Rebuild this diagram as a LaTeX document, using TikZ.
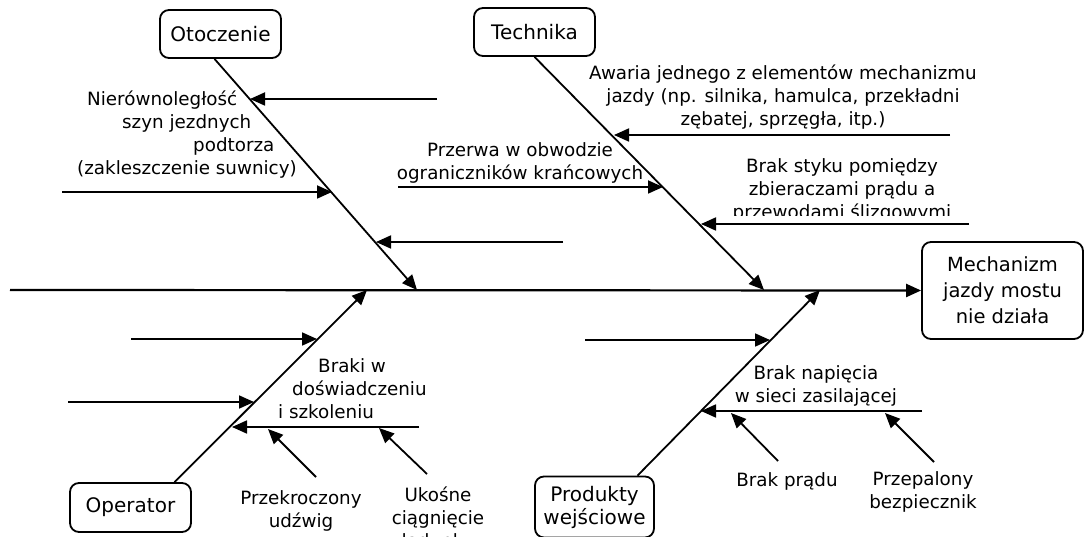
\documentclass[tikz,border=0pt]{standalone}
\usepackage{fontspec}
\setmainfont{DejaVu Sans}
\usetikzlibrary{arrows.meta}
\begin{document}
\begin{tikzpicture}[x=1pt,y=-1pt,
  tip/.style={-{Triangle[length=15pt,width=13pt]}},
  bone/.style={line width=1.8pt, tip},
  spine/.style={line width=2.2pt, tip},
  catbox/.style={draw, line width=1.8pt, rounded corners=9pt, inner sep=0pt,
    align=center, font=\fontsize{20}{23}\selectfont},
  lbl/.style={inner sep=0pt, font=\fontsize{18.3}{23}\selectfont}]
\clip (0,0) rectangle (1085,537);

% category boxes and effect box
\node[catbox, minimum width=121pt, minimum height=48pt] (oto) at (220.5,34) {Otoczenie};
\node[catbox, minimum width=121pt, minimum height=48pt] (tech) at (534.5,32) {Technika};
\node[catbox, minimum width=121pt, minimum height=49pt] (oper) at (130.5,507.5) {Operator};
\node[catbox, minimum width=119pt, minimum height=61pt] (prod) at (594.5,507) {Produkty\\wejściowe};
\node[catbox, minimum width=161pt, minimum height=97pt,
  font=\fontsize{19.5}{26}\selectfont] (mech) at (1002.5,290.5) {Mechanizm\\jazdy mostu\\nie działa};

% main spine
\coordinate (tail) at (10,290);
\draw[spine] (tail) -- (mech.west);

% bone ends on the spine
\coordinate (ob) at (417,290);
\coordinate (tb) at (764,290);
\coordinate (pb) at (367,290);
\coordinate (wb) at (820,290);
\draw[bone] ([xshift=-6pt]oto.south) -- (ob);
\draw[bone] (tech.south) -- (tb);
\draw[bone] ([xshift=44pt]oper.north) -- (pb);
\draw[bone] ([xshift=43pt]prod.north) -- (wb);

% Otoczenie causes
\coordinate (o1s) at (437,99);  \coordinate (o1t) at (250,99);
\coordinate (o2s) at (62,192);  \coordinate (o2t) at (332,192);
\coordinate (o3s) at (563,242); \coordinate (o3t) at (376,242);
\draw[bone] (o1s) -- (o1t);
\draw[bone] (o2s) -- (o2t);
\draw[bone] (o3s) -- (o3t);
\node[lbl, align=left, anchor=north west] (ol) at (77,91)
  {\hspace*{10pt}Nierównoległość\\\hspace*{45pt}szyn jezdnych\\\hspace*{116pt}podtorza\\(zakleszczenie suwnicy)};

% Technika causes
\coordinate (t1s) at (950,135); \coordinate (t1t) at (614,135);
\coordinate (t2s) at (398,187); \coordinate (t2t) at (663,187);
\coordinate (t3s) at (969,224); \coordinate (t3t) at (701,224);
\draw[bone] (t1s) -- (t1t);
\draw[bone] (t2s) -- (t2t);
\draw[bone] (t3s) -- (t3t);
\node[lbl, align=center] (tl1) at (783,97)
  {Awaria jednego z elementów mechanizmu\\jazdy (np. silnika, hamulca, przekładni\\zębatej, sprzęgła, itp.)};
\node[lbl, align=center] (tl2) at (520,163) {Przerwa w obwodzie\\ograniczników krańcowych};
\begin{scope}
  \clip (700,140) rectangle (1000,216);
  \node[lbl, align=center] (tl3) at (842,190) {Brak styku pomiędzy\\zbieraczami prądu a\\przewodami ślizgowymi};
\end{scope}

% Operator causes
\coordinate (p1s) at (131,339); \coordinate (p1t) at (317,339);
\coordinate (p2s) at (68,402);  \coordinate (p2t) at (254,402);
\coordinate (p3s) at (419,427); \coordinate (p3t) at (232,427);
\draw[bone] (p1s) -- (p1t);
\draw[bone] (p2s) -- (p2t);
\draw[bone] (p3s) -- (p3t);
\coordinate (p4s) at (316,477); \coordinate (p4t) at (268,429);
\coordinate (p5s) at (427,474); \coordinate (p5t) at (379,428);
\draw[bone] (p4s) -- (p4t);
\draw[bone] (p5s) -- (p5t);
\node[lbl, align=left, anchor=north west] (pl1) at (278,358)
  {\hspace*{40pt}Braki w\\\hspace*{14pt}doświadczeniu\\i szkoleniu};
\node[lbl, align=center] (pl2) at (301,511) {Przekroczony\\udźwig};
\node[lbl, align=center] (pl3) at (438,517) {Ukośne\\ciągnięcie\\ładunku};

% Produkty causes
\coordinate (w1s) at (585,340); \coordinate (w1t) at (770,340);
\coordinate (w2s) at (922,411); \coordinate (w2t) at (701,411);
\draw[bone] (w1s) -- (w1t);
\draw[bone] (w2s) -- (w2t);
\coordinate (w3s) at (778,461); \coordinate (w3t) at (731,413);
\coordinate (w4s) at (934,462); \coordinate (w4t) at (885,413);
\draw[bone] (w3s) -- (w3t);
\draw[bone] (w4s) -- (w4t);
\node[lbl, align=center] (wl1) at (816,386) {Brak napięcia\\w sieci zasilającej};
\node[lbl] (wl2) at (787,481) {Brak prądu};
\node[lbl, align=center] (wl3) at (923,492) {Przepalony\\bezpiecznik};
\end{tikzpicture}
\end{document}
